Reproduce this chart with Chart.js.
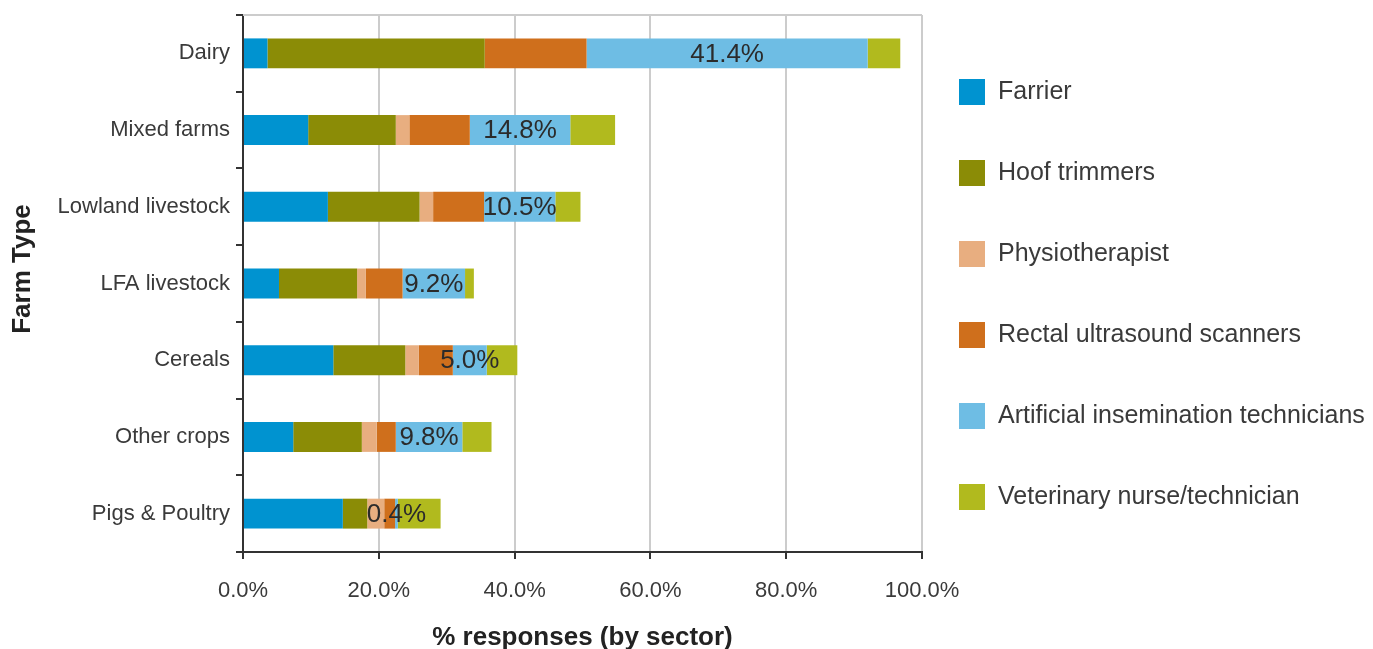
<!DOCTYPE html>
<html>
<head>
<meta charset="utf-8">
<script src="https://cdn.jsdelivr.net/npm/chart.js@4.4.1/dist/chart.umd.min.js"></script>
<style>
  html, body { margin: 0; padding: 0; background: #fff; }
</style>
</head>
<body>
<canvas id="farmChart" width="1373" height="649"></canvas>
<script>
// values (% responses by sector)
const farmTypes = ['Dairy', 'Mixed farms', 'Lowland livestock', 'LFA livestock', 'Cereals', 'Other crops', 'Pigs & Poultry'];
const farrier         = [3.6, 9.6, 12.5, 5.3, 13.3, 7.4, 14.7];
const hoofTrimmers    = [32.0, 12.9, 13.5, 11.5, 10.6, 10.1, 3.6];
const physiotherapist = [0, 2.0, 2.0, 1.3, 2.0, 2.2, 2.5];
const rectalScanners  = [15.0, 8.9, 7.5, 5.4, 5.0, 2.8, 1.6];
const aiTechnicians   = [41.4, 14.8, 10.5, 9.2, 5.0, 9.8, 0.4];
const vetNurse        = [4.8, 6.6, 3.7, 1.3, 4.5, 4.3, 6.3];
const xTicks = [0, 20, 40, 60, 80, 100];

const FONT = '"Liberation Sans", Arial, Helvetica, sans-serif';
const TEXT = '#3a3a3a';

// labels only on the AI technicians segments
const segmentLabels = {
    id: 'segmentLabels',
    afterDatasetsDraw(chart) {
        const ctx = chart.ctx;
        const meta = chart.getDatasetMeta(4);
        ctx.save();
        ctx.font = '26px ' + FONT;
        ctx.fillStyle = '#2b2b2b';
        ctx.textAlign = 'center';
        ctx.textBaseline = 'middle';
        meta.data.forEach(function (bar, i) {
            ctx.fillText(aiTechnicians[i].toFixed(1) + '%', (bar.x + bar.base) / 2, bar.y + 1);
        });
        ctx.restore();
    }
};

// top border of the plot + legend at the right
const sideLegend = {
    id: 'sideLegend',
    beforeDatasetsDraw(chart) {
        const ctx = chart.ctx;
        const area = chart.chartArea;
        ctx.save();
        ctx.strokeStyle = '#cccccc';
        ctx.lineWidth = 2;
        ctx.beginPath();
        ctx.moveTo(area.left, area.top);
        ctx.lineTo(area.right, area.top);
        ctx.stroke();
        ctx.restore();
    },
    afterDraw(chart) {
        const ctx = chart.ctx;
        const area = chart.chartArea;
        ctx.save();
        ctx.font = '25px ' + FONT;
        ctx.textBaseline = 'middle';
        chart.data.datasets.forEach(function (ds, i) {
            const y = 92 + i * 81;
            ctx.fillStyle = ds.backgroundColor;
            ctx.fillRect(area.right + 37, y - 13, 26, 26);
            ctx.fillStyle = TEXT;
            ctx.fillText(ds.label, area.right + 76, y);
        });
        ctx.restore();
    }
};

const ctx = document.getElementById('farmChart').getContext('2d');
const chart = new Chart(ctx, {
    type: 'bar',
    data: {
        labels: farmTypes,
        datasets: [
            { label: 'Farrier', data: farrier, backgroundColor: '#0093d0' },
            { label: 'Hoof trimmers', data: hoofTrimmers, backgroundColor: '#8b8c06' },
            { label: 'Physiotherapist', data: physiotherapist, backgroundColor: '#e8ae80' },
            { label: 'Rectal ultrasound scanners', data: rectalScanners, backgroundColor: '#cf6f1c' },
            { label: 'Artificial insemination technicians', data: aiTechnicians, backgroundColor: '#6ebde4' },
            { label: 'Veterinary nurse/technician', data: vetNurse, backgroundColor: '#b1ba1e' }
        ]
    },
    options: {
        indexAxis: 'y',
        responsive: false,
        animation: false,
        layout: { padding: { top: 15, right: 451, left: 0, bottom: 0 } },
        datasets: { bar: { categoryPercentage: 1, barPercentage: 0.39 } },
        plugins: {
            legend: { display: false },
            tooltip: { enabled: false }
        },
        scales: {
            x: {
                stacked: true,
                min: 0,
                max: 100,
                afterBuildTicks: function (scale) {
                    scale.ticks = xTicks.map(function (v) { return { value: v }; });
                },
                afterFit: function (scale) { scale.height = 97; },
                ticks: {
                    font: { size: 22, family: FONT },
                    color: TEXT,
                    padding: 19,
                    maxRotation: 0,
                    callback: function (v) { return Number(v).toFixed(1) + '%'; }
                },
                grid: { color: '#cccccc', lineWidth: 2, tickColor: '#333', tickLength: 7 },
                border: { color: '#333', width: 2 },
                title: {
                    display: true,
                    text: '% responses (by sector)',
                    font: { size: 26, weight: 'bold', family: FONT },
                    color: '#222',
                    padding: { top: 4, bottom: -4 }
                }
            },
            y: {
                stacked: true,
                afterFit: function (scale) {
                    scale.width = 243;
                    scale.paddingTop = 0;
                    scale.paddingBottom = 0;
                },
                ticks: {
                    font: { size: 22, family: FONT },
                    color: TEXT,
                    padding: 6
                },
                grid: { drawOnChartArea: false, offset: true, tickColor: '#333', tickLength: 7, lineWidth: 2 },
                border: { color: '#333', width: 2 },
                title: {
                    display: true,
                    // leading spaces nudge the rotated title up a little
                    text: '    Farm Type',
                    font: { size: 26, weight: 'bold', family: FONT },
                    color: '#222',
                    padding: { top: 7, bottom: 4 }
                }
            }
        }
    },
    plugins: [segmentLabels, sideLegend]
});
</script>
</body>
</html>
